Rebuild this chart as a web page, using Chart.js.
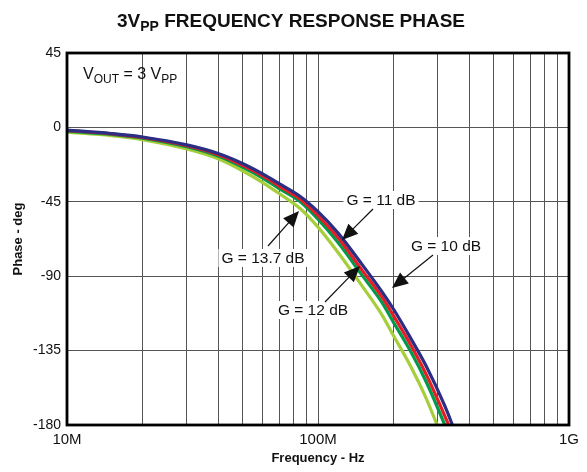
<!DOCTYPE html>
<html>
<head>
<meta charset="UTF-8" />
<title>3VPP Frequency Response Phase</title>
<script src="https://cdn.jsdelivr.net/npm/chart.js"></script>
<style>
  body { margin: 0; background: #fff; }
</style>
</head>
<body>
<canvas id="phaseChart" width="587" height="472"></canvas>
<script>
// frequencies in MHz, shared by all curves
const freqMHz = [10, 15, 20, 30, 40, 50, 60, 70, 85, 100, 120, 150, 180, 200, 233, 270, 320, 350, 380];

// phase in degrees
const phaseG10   = [-1.6, -3.7, -5.8, -10.6, -15.8, -21.8, -28.0, -34.0, -41.8, -51.0, -63.8, -83.0, -99.5, -110, -127, -144.5, -168.5, -183.5, -199];
const phaseG11   = [-1.8, -3.9, -6.1, -11.1, -16.5, -22.9, -29.2, -35.5, -43.4, -53.3, -66.6, -86.5, -102.7, -114, -131, -149.5, -174.5, -189, -204];
const phaseG13_7 = [-2.2, -4.2, -6.5, -11.7, -17.3, -24.0, -30.5, -37.0, -45.0, -55.5, -69.5, -89.5, -106, -118, -135, -154, -180, -195, -210];
const phaseG12   = [-2.9, -5.0, -7.4, -13.1, -19.0, -26.2, -33.2, -40.0, -49.2, -60.3, -75.5, -96.0, -113.5, -126, -144, -164, -192, -208, -222];

const yTicks = [-180, -135, -90, -45, 0, 45];
const xLabels = { 1e7: '10M', 1e8: '100M', 1e9: '1G' };

const FONT = 'Liberation Sans, Arial, Helvetica, sans-serif';

function pts(ph) {
  return freqMHz.map((f, i) => ({ x: f * 1e6, y: ph[i] }));
}

// draws text made of [text, isSub] pieces
function richText(ctx, parts, x, y, size, align, bold) {
  const sub = Math.round(size * 0.72);
  let total = 0;
  parts.forEach(p => {
    ctx.font = (bold ? 'bold ' : '') + (p[1] ? sub : size) + 'px ' + FONT;
    total += ctx.measureText(p[0]).width;
  });
  let cx = align === 'center' ? x - total / 2 : x;
  ctx.textAlign = 'left';
  ctx.textBaseline = 'alphabetic';
  parts.forEach(p => {
    ctx.font = (bold ? 'bold ' : '') + (p[1] ? sub : size) + 'px ' + FONT;
    ctx.fillText(p[0], cx, p[1] ? y + size * 0.22 : y);
    cx += ctx.measureText(p[0]).width;
  });
}

function label(ctx, text, cx, cy) {
  ctx.font = '15.5px ' + FONT;
  const w = ctx.measureText(text).width;
  ctx.fillStyle = '#fff';
  ctx.fillRect(cx - w / 2 - 3, cy - 9, w + 6, 18);
  ctx.fillStyle = '#111';
  ctx.textAlign = 'center';
  ctx.textBaseline = 'middle';
  ctx.fillText(text, cx, cy + 1);
}

function arrow(ctx, x1, y1, x2, y2) {
  const a = Math.atan2(y2 - y1, x2 - x1);
  const len = 16, hw = 7;
  ctx.strokeStyle = '#111';
  ctx.lineWidth = 1.2;
  ctx.beginPath();
  ctx.moveTo(x1, y1);
  ctx.lineTo(x2 - Math.cos(a) * len * 0.8, y2 - Math.sin(a) * len * 0.8);
  ctx.stroke();
  ctx.fillStyle = '#111';
  ctx.beginPath();
  ctx.moveTo(x2, y2);
  ctx.lineTo(x2 - Math.cos(a) * len - Math.sin(a) * hw, y2 - Math.sin(a) * len + Math.cos(a) * hw);
  ctx.lineTo(x2 - Math.cos(a) * len + Math.sin(a) * hw, y2 - Math.sin(a) * len - Math.cos(a) * hw);
  ctx.closePath();
  ctx.fill();
}

const extras = {
  id: 'extras',
  afterDatasetsDraw(chart) {
    const ctx = chart.ctx;
    const a = chart.chartArea;
    ctx.save();

    // frame
    ctx.strokeStyle = '#000';
    ctx.lineWidth = 2.8;
    ctx.strokeRect(a.left, a.top, a.right - a.left, a.bottom - a.top);

    // title
    ctx.fillStyle = '#111';
    richText(ctx, [['3V', false], ['PP', true], [' FREQUENCY RESPONSE PHASE', false]], 291, 27, 19, 'center', true);

    // condition note
    ctx.fillStyle = '#111';
    richText(ctx, [['V', false], ['OUT', true], [' = 3 V', false], ['PP', true]], 83, 79, 16, 'left', false);

    // gain labels and arrows
    label(ctx, 'G = 11 dB', 381, 200);
    label(ctx, 'G = 13.7 dB', 263, 258);
    label(ctx, 'G = 10 dB', 446, 246);
    label(ctx, 'G = 12 dB', 313, 310);
    arrow(ctx, 373, 209, 342, 240);
    arrow(ctx, 268, 246, 299, 211);
    arrow(ctx, 433, 255, 392, 288);
    arrow(ctx, 325, 302, 360, 266);

    ctx.restore();
  }
};

const lineDs = (lbl, ph, color) => ({
  label: lbl,
  data: pts(ph),
  borderColor: color,
  borderWidth: 3.2,
  pointRadius: 0,
  fill: false,
  cubicInterpolationMode: 'monotone'
});

new Chart(document.getElementById('phaseChart').getContext('2d'), {
  type: 'line',
  data: {
    datasets: [
      lineDs('G = 10 dB', phaseG10, '#2b2e83'),
      lineDs('G = 11 dB', phaseG11, '#e31e26'),
      lineDs('G = 13.7 dB', phaseG13_7, '#00994a'),
      lineDs('G = 12 dB', phaseG12, '#a6ce3a')
    ]
  },
  options: {
    responsive: false,
    animation: false,
    layout: { padding: { top: 53, right: 18, left: 0, bottom: 0 } },
    plugins: { legend: { display: false }, tooltip: { enabled: false } },
    scales: {
      x: {
        type: 'logarithmic',
        min: 1e7,
        max: 1e9,
        afterFit: s => { s.height = 47; },
        afterBuildTicks: s => {
          const t = [];
          [1e7, 1e8].forEach(d => { for (let k = 1; k < 10; k++) t.push({ value: k * d }); });
          t.push({ value: 1e9 });
          s.ticks = t;
        },
        ticks: {
          autoSkip: false,
          maxRotation: 0,
          padding: 6,
          color: '#111',
          font: { family: FONT, size: 15 },
          callback: v => xLabels[v] || ''
        },
        grid: { color: '#555', lineWidth: 1, drawTicks: false },
        border: { display: false },
        title: {
          display: true,
          text: 'Frequency - Hz',
          color: '#111',
          font: { family: FONT, size: 13, weight: 'bold' },
          padding: { top: 0, bottom: 6 }
        }
      },
      y: {
        min: -180,
        max: 45,
        afterFit: s => { s.width = 67; },
        afterBuildTicks: s => { s.ticks = yTicks.map(v => ({ value: v })); },
        ticks: {
          padding: 6,
          color: '#111',
          font: { family: FONT, size: 14 }
        },
        grid: { color: '#555', lineWidth: 1, drawTicks: false },
        border: { display: false },
        title: {
          display: true,
          text: 'Phase - deg',
          color: '#111',
          font: { family: FONT, size: 13, weight: 'bold' },
          padding: { top: 11, bottom: 0 }
        }
      }
    }
  },
  plugins: [extras]
});
</script>
</body>
</html>
